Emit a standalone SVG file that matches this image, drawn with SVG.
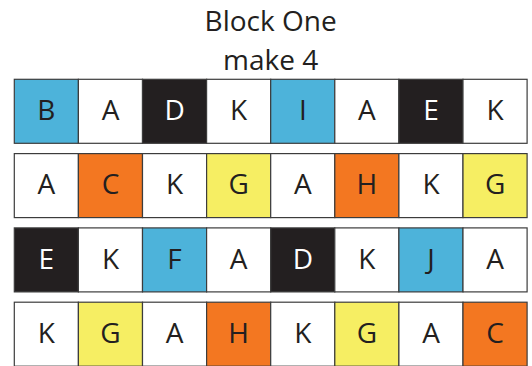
<svg xmlns="http://www.w3.org/2000/svg" width="532" height="366" viewBox="0 0 532 366">
<style>
.t{font-family:"Open Sans","Noto Sans",sans-serif;font-size:28px;fill:#231f20;text-anchor:middle}
.c{stroke:#3c3c3c;stroke-width:1.2}
.w{fill:#ffffff}.b{fill:#4db3da}.k{fill:#231f20}.o{fill:#f37721}.y{fill:#f6ee63}
.inv{fill:#ffffff}
</style>
<rect width="532" height="366" fill="#ffffff"/>
<g id="title">
<text class="t" x="270.6" y="30.7">Block One</text>
<text class="t" x="270.6" y="70.3">make 4</text>
</g>
<g id="row1">
<rect class="c b" x="14.3" y="79.3" width="64.1" height="64"/>
<rect class="c w" x="78.4" y="79.3" width="64.1" height="64"/>
<rect class="c k" x="142.5" y="79.3" width="64.1" height="64"/>
<rect class="c w" x="206.6" y="79.3" width="64.1" height="64"/>
<rect class="c b" x="270.7" y="79.3" width="64.1" height="64"/>
<rect class="c w" x="334.8" y="79.3" width="64.1" height="64"/>
<rect class="c k" x="398.9" y="79.3" width="64.1" height="64"/>
<rect class="c w" x="463" y="79.3" width="64.1" height="64"/>
<text class="t" x="46.4" y="120">B</text>
<text class="t" x="110.5" y="120">A</text>
<text class="t inv" x="174.6" y="120">D</text>
<text class="t" x="238.7" y="120">K</text>
<text class="t" x="302.8" y="120">I</text>
<text class="t" x="366.9" y="120">A</text>
<text class="t inv" x="431" y="120">E</text>
<text class="t" x="495.1" y="120">K</text>
</g>
<g id="row2">
<rect class="c w" x="14.3" y="153.6" width="64.1" height="64"/>
<rect class="c o" x="78.4" y="153.6" width="64.1" height="64"/>
<rect class="c w" x="142.5" y="153.6" width="64.1" height="64"/>
<rect class="c y" x="206.6" y="153.6" width="64.1" height="64"/>
<rect class="c w" x="270.7" y="153.6" width="64.1" height="64"/>
<rect class="c o" x="334.8" y="153.6" width="64.1" height="64"/>
<rect class="c w" x="398.9" y="153.6" width="64.1" height="64"/>
<rect class="c y" x="463" y="153.6" width="64.1" height="64"/>
<text class="t" x="46.4" y="194.3">A</text>
<text class="t" x="110.5" y="194.3">C</text>
<text class="t" x="174.6" y="194.3">K</text>
<text class="t" x="238.7" y="194.3">G</text>
<text class="t" x="302.8" y="194.3">A</text>
<text class="t" x="366.9" y="194.3">H</text>
<text class="t" x="431" y="194.3">K</text>
<text class="t" x="495.1" y="194.3">G</text>
</g>
<g id="row3">
<rect class="c k" x="14.3" y="227.9" width="64.1" height="64"/>
<rect class="c w" x="78.4" y="227.9" width="64.1" height="64"/>
<rect class="c b" x="142.5" y="227.9" width="64.1" height="64"/>
<rect class="c w" x="206.6" y="227.9" width="64.1" height="64"/>
<rect class="c k" x="270.7" y="227.9" width="64.1" height="64"/>
<rect class="c w" x="334.8" y="227.9" width="64.1" height="64"/>
<rect class="c b" x="398.9" y="227.9" width="64.1" height="64"/>
<rect class="c w" x="463" y="227.9" width="64.1" height="64"/>
<text class="t inv" x="46.4" y="268.6">E</text>
<text class="t" x="110.5" y="268.6">K</text>
<text class="t" x="174.6" y="268.6">F</text>
<text class="t" x="238.7" y="268.6">A</text>
<text class="t inv" x="302.8" y="268.6">D</text>
<text class="t" x="366.9" y="268.6">K</text>
<text class="t" x="431" y="268.6">J</text>
<text class="t" x="495.1" y="268.6">A</text>
</g>
<g id="row4">
<rect class="c w" x="14.3" y="302.2" width="64.1" height="64"/>
<rect class="c y" x="78.4" y="302.2" width="64.1" height="64"/>
<rect class="c w" x="142.5" y="302.2" width="64.1" height="64"/>
<rect class="c o" x="206.6" y="302.2" width="64.1" height="64"/>
<rect class="c w" x="270.7" y="302.2" width="64.1" height="64"/>
<rect class="c y" x="334.8" y="302.2" width="64.1" height="64"/>
<rect class="c w" x="398.9" y="302.2" width="64.1" height="64"/>
<rect class="c o" x="463" y="302.2" width="64.1" height="64"/>
<text class="t" x="46.4" y="342.9">K</text>
<text class="t" x="110.5" y="342.9">G</text>
<text class="t" x="174.6" y="342.9">A</text>
<text class="t" x="238.7" y="342.9">H</text>
<text class="t" x="302.8" y="342.9">K</text>
<text class="t" x="366.9" y="342.9">G</text>
<text class="t" x="431" y="342.9">A</text>
<text class="t" x="495.1" y="342.9">C</text>
</g>
<g id="connectors"/>
</svg>
